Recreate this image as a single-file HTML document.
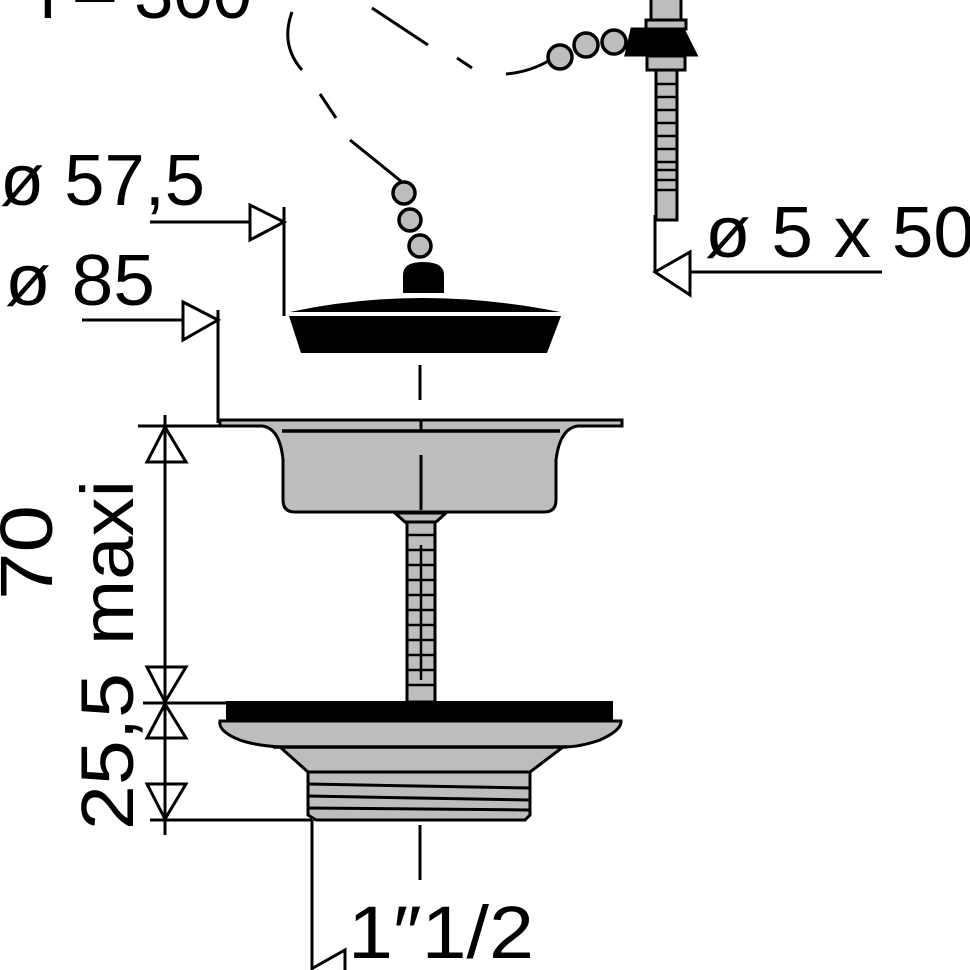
<!DOCTYPE html>
<html><head><meta charset="utf-8"><style>
html,body{margin:0;padding:0;background:#fff;}
svg{display:block;}
text{font-family:"Liberation Sans Narrow","Liberation Sans",sans-serif;fill:#000;}
</style></head><body>
<svg width="970" height="970" viewBox="0 0 970 970" xmlns="http://www.w3.org/2000/svg">
<g fill="none" stroke="#000" stroke-width="3">
<path d="M292 12 Q280 45 302 70"/>
<line x1="320" y1="94" x2="336" y2="118"/>
<line x1="350" y1="140" x2="402" y2="182"/>
<line x1="372" y1="8" x2="428" y2="45"/>
<line x1="457" y1="58" x2="472" y2="68"/>
<path d="M506 74 Q530 72 550 60"/>
<line x1="420" y1="365" x2="420" y2="400"/>
<line x1="420" y1="825" x2="420" y2="880"/>
<line x1="284" y1="207" x2="284" y2="316"/>
<line x1="150" y1="222" x2="284" y2="222"/>
<path d="M284 222 L250 205 L250 240 Z" fill="#fff"/>
<line x1="218" y1="310" x2="218" y2="423"/>
<line x1="82" y1="320" x2="218" y2="320"/>
<path d="M218 320 L183 302 L183 340 Z" fill="#fff"/>
<line x1="655" y1="215" x2="655" y2="272"/>
<line x1="655" y1="272" x2="882" y2="272"/>
<path d="M655 272 L690 252 L690 295 Z" fill="#fff"/>
<line x1="165" y1="415" x2="165" y2="835"/>
<line x1="138" y1="426" x2="222" y2="426"/>
<line x1="143" y1="703" x2="226" y2="703"/>
<line x1="150" y1="820" x2="312" y2="820"/>
<path d="M165 427 L147 462 L186 462 Z"/>
<path d="M165 702 L147 667 L186 667 Z"/>
<path d="M165 704 L147 738 L186 738 Z"/>
<path d="M165 819 L147 784 L186 784 Z"/>
<line x1="312" y1="820" x2="312" y2="970"/>
<path d="M313 968 L345 950 L345 970"/>
</g>
<g fill="#bdbdbd" stroke="#000" stroke-width="3.5">
<circle cx="560" cy="57" r="12"/><circle cx="586" cy="45" r="12"/><circle cx="614" cy="42" r="12"/>
<circle cx="404" cy="193" r="11"/><circle cx="410" cy="220" r="11"/><circle cx="420" cy="246" r="11"/>
</g>
<g stroke="#000" stroke-width="3">
<path d="M651 0 L651 20 L681 20 L681 0" fill="#bdbdbd"/>
<rect x="646" y="20" width="40" height="9" fill="#bdbdbd"/>
<path d="M632 29 L683 29 L696 55 L626 55 Z" fill="#000"/>
<rect x="647" y="56" width="38" height="14" fill="#bdbdbd"/>
<rect x="656" y="70" width="21" height="150" fill="#bdbdbd"/>
</g>
<g stroke="#000" stroke-width="2.5">
<line x1="656" y1="84" x2="677" y2="84"/><line x1="656" y1="97" x2="677" y2="97"/>
<line x1="656" y1="110" x2="677" y2="110"/><line x1="656" y1="123" x2="677" y2="123"/>
<line x1="656" y1="136" x2="677" y2="136"/><line x1="656" y1="149" x2="677" y2="149"/>
<line x1="656" y1="162" x2="677" y2="162"/><line x1="656" y1="170" x2="677" y2="170"/>
<line x1="656" y1="180" x2="677" y2="180"/><line x1="656" y1="190" x2="677" y2="190"/>
</g>
<path d="M403 293 L403 275 Q403 262 423 262 Q444 262 444 275 L444 293 Z" fill="#000"/>
<path d="M290 312 Q420 284 560 312 Z" fill="#000"/>
<path d="M289 316 L561 316 L547 353 L301 353 Z" fill="#000"/>
<g stroke="#000" stroke-width="3">
<path d="M220 420 L622 420 L622 426 L578 426 Q560 428 556 460 L556 500 Q556 512 544 512 L295 512 Q283 512 283 500 L283 460 Q280 428 262 426 L220 426 Z" fill="#bdbdbd"/>
<line x1="282" y1="431" x2="560" y2="431" stroke-width="3.5"/>
<line x1="421" y1="420" x2="421" y2="430"/>
<line x1="421" y1="455" x2="421" y2="510"/>
<path d="M395 513 L446 513 L436 522 L405 522 Z" fill="#bdbdbd"/>
<rect x="407" y="522" width="28" height="180" fill="#bdbdbd"/>
</g>
<g stroke="#000" stroke-width="2.5">
<line x1="407" y1="535" x2="435" y2="535"/><line x1="407" y1="550" x2="435" y2="550"/>
<line x1="407" y1="565" x2="435" y2="565"/><line x1="407" y1="580" x2="435" y2="580"/>
<line x1="407" y1="595" x2="435" y2="595"/><line x1="407" y1="610" x2="435" y2="610"/>
<line x1="407" y1="625" x2="435" y2="625"/><line x1="407" y1="640" x2="435" y2="640"/>
<line x1="407" y1="655" x2="435" y2="655"/><line x1="407" y1="670" x2="435" y2="670"/>
<line x1="407" y1="685" x2="435" y2="685"/>
<line x1="421" y1="545" x2="421" y2="680"/>
</g>
<rect x="226" y="701" width="387" height="21" fill="#000"/>
<g stroke="#000" stroke-width="3">
<path d="M220 721 L621 721 Q622 730 600 740 Q580 747 563 747 L530 772 L530 815 L525 820 L316 820 L308 815 L308 772 L280 747 Q250 745 235 738 Q218 730 220 721 Z" fill="#bdbdbd"/>
<line x1="273" y1="747" x2="567" y2="747" stroke-width="3.5"/>
<line x1="308" y1="772" x2="530" y2="772"/>
<line x1="308" y1="784" x2="530" y2="788"/>
<line x1="308" y1="796" x2="530" y2="800"/>
<line x1="308" y1="808" x2="530" y2="810"/>
</g>
<text x="40" y="18" font-size="72" textLength="212" lengthAdjust="spacingAndGlyphs">l – 300</text>
<text x="0" y="205" font-size="72" textLength="205" lengthAdjust="spacingAndGlyphs">ø 57,5</text>
<text x="5" y="305" font-size="72" textLength="150" lengthAdjust="spacingAndGlyphs">ø 85</text>
<text x="705" y="257" font-size="72" textLength="270" lengthAdjust="spacingAndGlyphs">ø 5 x 50</text>
<text x="348" y="958" font-size="74" textLength="186" lengthAdjust="spacingAndGlyphs">1″1/2</text>
<text transform="translate(52,600) rotate(-90)" font-size="74" textLength="95" lengthAdjust="spacingAndGlyphs">70</text>
<text transform="translate(133,645) rotate(-90)" font-size="74" textLength="165" lengthAdjust="spacingAndGlyphs">maxi</text>
<text transform="translate(133,830) rotate(-90)" font-size="74" textLength="157" lengthAdjust="spacingAndGlyphs">25,5</text>
</svg>
</body></html>
